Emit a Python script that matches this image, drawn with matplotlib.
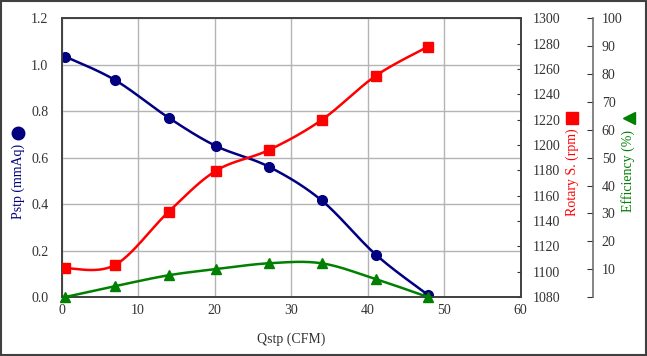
import numpy as np
import matplotlib
matplotlib.use("Agg")
import matplotlib.pyplot as plt
from matplotlib.lines import Line2D
from matplotlib.patches import Rectangle
from matplotlib.ticker import FuncFormatter

plt.rcParams['font.family'] = ['Liberation Serif', 'DejaVu Serif']
plt.rcParams['font.size'] = 10

# ---- data ----
qstp = [0.5, 7.0, 14.0, 20.2, 27.1, 34.0, 41.1, 47.9]
pstp = [1.035, 0.934, 0.772, 0.650, 0.561, 0.416, 0.182, 0.009]
rpm = [1102.7, 1105.3, 1147.3, 1179.7, 1196.0, 1219.7, 1254.7, 1277.6]
eff = [0.0, 3.9, 7.8, 10.0, 12.1, 12.1, 6.4, 0.0]

x_ticks = [0, 10, 20, 30, 40, 50, 60]
p_ticks = [0.0, 0.2, 0.4, 0.6, 0.8, 1.0, 1.2]
rpm_ticks = list(range(1080, 1301, 20))
eff_ticks = list(range(0, 101, 10))

NAVY = '#000080'
RED = '#FF0000'
GREEN = '#008000'


def smooth(xs, ys, n=40):
    """Excel-like smoothed line (Catmull-Rom as cubic Bezier)."""
    xs = np.asarray(xs, float)
    ys = np.asarray(ys, float)
    P = np.column_stack([xs, ys])
    out = []
    m = len(P)
    for i in range(m - 1):
        p0 = P[i - 1] if i > 0 else P[i]
        p1 = P[i]
        p2 = P[i + 1]
        p3 = P[i + 2] if i + 2 < m else P[i + 1]
        c1 = p1 + (p2 - p0) / 6.0
        c2 = p2 - (p3 - p1) / 6.0
        t = np.linspace(0, 1, n)[:, None]
        seg = ((1 - t) ** 3) * p1 + 3 * ((1 - t) ** 2) * t * c1 + 3 * (1 - t) * t ** 2 * c2 + t ** 3 * p2
        out.append(seg if i == 0 else seg[1:])
    s = np.vstack(out)
    return s[:, 0], s[:, 1]


fig = plt.figure(figsize=(6.47, 3.56), dpi=100)
L, R, B, T = 61.5 / 647, 520.5 / 647, 59 / 356, (356 - 18.3) / 356
ax = fig.add_axes([L, B, R - L, T - B])
ax2 = ax.twinx()
ax3 = ax.twinx()

frame_c = '#404040'
for sp in ax.spines.values():
    sp.set_color(frame_c)
    sp.set_linewidth(1.2)
for sp in ax2.spines.values():
    sp.set_color(frame_c)
    sp.set_linewidth(1.2)

ax.set_xlim(0, 60)
ax.set_ylim(0, 1.2)
ax.set_xticks(x_ticks)
ax.set_yticks(p_ticks)
ax.yaxis.set_major_formatter(FuncFormatter(lambda v, p: f"{v:.1f}"))
ax.grid(True, color='#B4B4B4', linewidth=1.0)
ax.set_axisbelow(True)
ax.tick_params(axis='both', length=0, colors='#333333')
ax.tick_params(axis='y', pad=9.5)
ax.tick_params(axis='x', pad=5)

ax2.set_ylim(1080, 1300)
ax2.set_yticks(rpm_ticks)
ax2.tick_params(axis='y', direction='in', length=3, pad=8.5, colors='#333333')

ax3.set_ylim(0, 100)
ax3.set_yticks(eff_ticks)
ax3.yaxis.set_major_formatter(FuncFormatter(lambda v, p: '' if v == 0 else f"{int(v)}"))
ax3.spines['right'].set_position(('axes', (592.7 - 61.5) / 459.0))
ax3.spines['right'].set_color('#707070')
ax3.spines['right'].set_linewidth(1.2)
for k in ['left', 'top', 'bottom']:
    ax3.spines[k].set_visible(False)
ax3.tick_params(axis='y', direction='in', length=4, pad=6.5, colors='#333333')

ms = 7
sx, sy = smooth(qstp, pstp)
ax.plot(sx, sy, color=NAVY, lw=1.8, zorder=3)
ax.plot(qstp, pstp, 'o', color=NAVY, ms=ms, zorder=4)

sx, sy = smooth(qstp, rpm)
ax2.plot(sx, sy, color=RED, lw=1.8, zorder=3)
ax2.plot(qstp, rpm, 's', color=RED, ms=ms, zorder=4)

sx, sy = smooth(qstp, eff)
ax3.plot(sx, sy, color=GREEN, lw=1.8, zorder=3, clip_on=False)
ax3.plot(qstp, eff, '^', color=GREEN, ms=ms, zorder=4, clip_on=False)

ax.set_xlabel('Qstp (CFM)', color='#333333', labelpad=11)

# axis titles with marker symbols
def px(x, y):
    return x / 647, (356 - y) / 356

fig.text(*px(18, 181), 'Pstp (mmAq)', rotation=90, color=NAVY, ha='center', va='center')
fig.add_artist(Line2D([px(18, 133)[0]], [px(18, 133)[1]], marker='o', color=NAVY, ms=9,
                      transform=fig.transFigure))
fig.text(*px(572, 172), 'Rotary S. (rpm)', rotation=90, color=RED, ha='center', va='center')
fig.add_artist(Line2D([px(572, 118)[0]], [px(572, 118)[1]], marker='s', color=RED, ms=9,
                      transform=fig.transFigure))
fig.text(*px(628, 171), 'Efficiency (%)', rotation=90, color=GREEN, ha='center', va='center')
fig.add_artist(Line2D([px(629, 118)[0]], [px(629, 118)[1]], marker='<', color=GREEN, ms=8,
                      transform=fig.transFigure))

fig.patches.append(Rectangle((0.001, 0.002), 0.997, 0.996, transform=fig.transFigure,
                             fill=False, edgecolor='#404040', linewidth=1.5))

fig.savefig('out.png', dpi=100)
